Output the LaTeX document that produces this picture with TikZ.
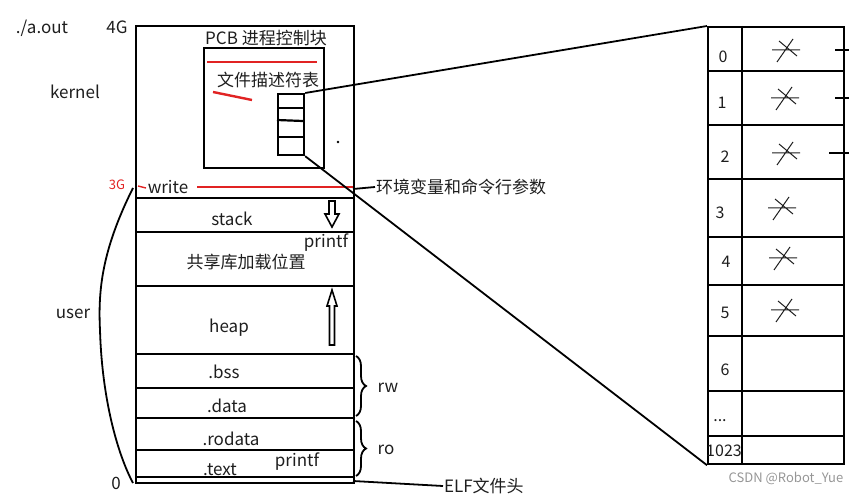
\documentclass[tikz,border=0pt]{standalone}
\usepackage{fontspec}
\setmainfont{Noto Sans CJK SC}
\usetikzlibrary{decorations.pathreplacing}
\definecolor{penred}{RGB}{225,35,35}
\definecolor{inkgray}{RGB}{30,30,30}
\definecolor{wmgray}{RGB}{150,150,150}
\begin{document}
\begin{tikzpicture}[x=1pt,y=-1pt,line width=2.2pt,
  lbl/.style={font=\fontsize{17}{17}\selectfont,inner sep=0pt,text=inkgray},
  small/.style={font=\fontsize{16}{16}\selectfont,inner sep=0pt,text=inkgray},
  boxed/.style={draw,anchor=north west,inner sep=0pt},
  redpen/.style={draw=penred,line width=2.4pt},
  bracestyle/.style={decorate,decoration={brace,amplitude=10pt},line width=1.8pt},
  xmk/.pic={\draw[line width=1pt,inkgray] (-14,0) -- (14,0) (-9,12) -- (7,-11) (-7,-9) -- (11,6);}]
\useasboundingbox (0,0) rectangle (849,494);

% main memory box
\node[boxed,minimum width=218,minimum height=457] (mem) at (135,25) {};
\foreach \yy in {198,232,286,354,388,418,450,477}
  \draw (135,\yy) -- (353,\yy);

% PCB box
\node[boxed,minimum width=120,minimum height=120] (pcb) at (203,47) {};
\node[lbl] (pcbt) at (266,38) {PCB 进程控制块};
\draw[redpen] (207,62) -- (317,62);
\node[lbl] (fdtt) at (268,80) {文件描述符表};
\draw[redpen] (213,92) -- (252,100);
\node[boxed,minimum width=26,minimum height=61] (fdt) at (277,93) {};
\draw (277,108) -- (303,108);
\draw (277,120) -- (303,121);
\draw (277,137) -- (303,137);
\fill (338,142) circle (1.4);

% left labels
\node[lbl] (aout) at (42,28) {./a.out};
\node[lbl] (g4) at (117,27) {4G};
\node[lbl] (kern) at (75,92) {kernel};
\node[font=\fontsize{13}{13}\selectfont,inner sep=0pt,text=penred] (g3) at (117,185) {3G};
\node[lbl] (usr) at (73,314) {user};
\node[lbl] (g0) at (116,483) {0};
\draw[line width=1.8pt] (133,188) .. controls (102,250) and (98,290) .. (100,330) .. controls (102,400) and (118,455) .. (133,483);

% write row
\draw[penred,line width=1.4pt] (138,186) -- (146,188);
\node[lbl] (wr) at (168,187) {write};
\draw[redpen] (197,187) -- (353,187);

% segment labels
\node[lbl] (stk) at (232,219) {stack};
\node[lbl] (pf1) at (326,243) {printf};
\node[lbl] (shl) at (246,262) {共享库加载位置};
\node[lbl] (hp) at (229,328) {heap};
\node[lbl] (bss) at (224,372) {.bss};
\node[lbl] (dat) at (227,406) {.data};
\node[lbl] (rod) at (231,439) {.rodata};
\node[lbl] (txt) at (220,470) {.text};
\node[lbl] (pf2) at (297,462) {printf};

% growth arrows
\draw[line width=1.6pt] (329,201) -- (335,201) -- (335,214) -- (339,214) -- (332,227) -- (325,214) -- (329,214) -- cycle;
\draw[line width=1.6pt] (332,290) -- (337,306) -- (334.5,306) -- (334.5,345) -- (329.5,345) -- (329.5,306) -- (327,306) -- cycle;

% braces
\draw[bracestyle] (356,356) -- (356,416);
\node[lbl] (rw) at (388,388) {rw};
\draw[bracestyle] (356,421) -- (356,476);
\node[lbl] (ro) at (386,450) {ro};

% right labels
\node[lbl,anchor=west] (env) at (375,187) {环境变量和命令行参数};
\draw[line width=1.8pt] (353,189) -- (env.west);
\node[lbl,anchor=west] (elf) at (443,486) {ELF文件头};
\draw[line width=1.8pt] (353,481) -- (elf.west);

% file descriptor table
\node[boxed,minimum width=136,minimum height=437] (tbl) at (707,26) {};
\draw (742,26) -- (742,463);
\foreach \yy in {71,125,179,237,285,336,391,436}
  \draw (707,\yy) -- (843,\yy);
\node[small] (i0) at (723,57) {0};
\node[small] (i1) at (722,103) {1};
\node[small] (i2) at (725,157) {2};
\node[small] (i3) at (720,213) {3};
\node[small] (i4) at (726,262) {4};
\node[small] (i5) at (725,313) {5};
\node[small] (i6) at (725,370) {6};
\node[small] (idots) at (720,421) {...};
\node[small] (i1023) at (724,451) {1023};
\pic at (786,50) {xmk};
\pic at (785,98) {xmk};
\pic at (786,153) {xmk};
\pic at (782,208) {xmk};
\pic at (783,258) {xmk};
\pic at (785,310) {xmk};
\draw (835,50) -- (849,50);
\draw (835,98) -- (849,98);
\draw (829,153) -- (849,153);

% zoom lines
\draw[line width=1.8pt] (fdt.north east) -- (tbl.north west);
\draw[line width=1.8pt] (fdt.south east) -- (tbl.south west);

% watermark
\node[font=\fontsize{13}{13}\selectfont,inner sep=0pt,text=wmgray] (wm) at (786,478) {CSDN @Robot\_Yue};
\end{tikzpicture}
\end{document}
